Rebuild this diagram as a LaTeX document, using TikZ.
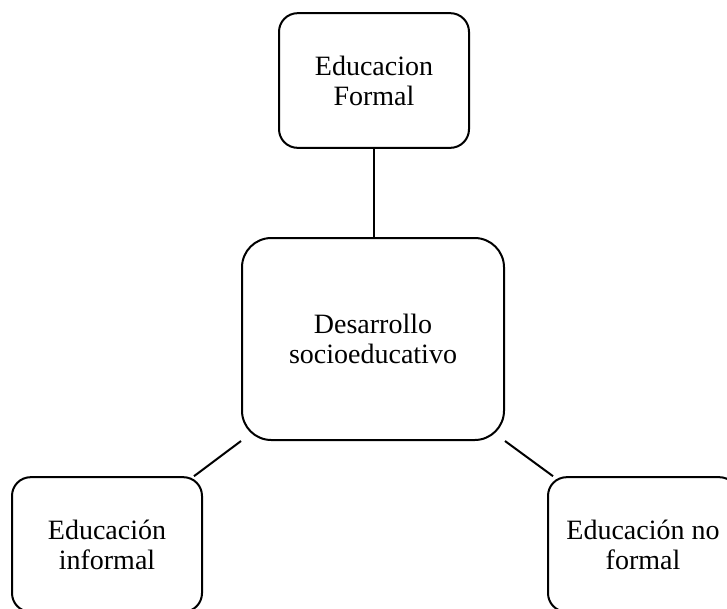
\documentclass[tikz,border=0pt]{standalone}
\usepackage{fontspec}
\setmainfont{Liberation Serif}
\begin{document}
\begin{tikzpicture}[x=0.75pt, y=-0.75pt]
      \tikzstyle{ebox} = [line width=1.5pt, draw=black, rectangle, rounded corners=14pt, align=center, font=\fontsize{21}{22.5}\selectfont, minimum width=142.5pt, minimum height=101pt, inner sep=0pt]
      \useasboundingbox (0,0) rectangle (727,608);
      \node[ebox] (formal) at (374,80.5) {Educacion\\Formal};
      \node[ebox, minimum width=196.5pt, minimum height=151.5pt, rounded corners=22pt] (desarrollo) at (373,339) {Desarrollo\\socioeducativo};
      \node[ebox] (informal) at (107,544.5) {Educación\\informal};
      \node[ebox] (noformal) at (643,544.5) {Educación no\\formal};

      \draw[-, line width=1.5pt] (formal) to (formal |- desarrollo.north);
      \draw[-, line width=1.5pt] ([xshift=-6.75pt]informal.north east) to (desarrollo.south west);
      \draw[-, line width=1.5pt] (desarrollo.south east) to ([xshift=4.5pt]noformal.north west);
    \end{tikzpicture}
\end{document}
